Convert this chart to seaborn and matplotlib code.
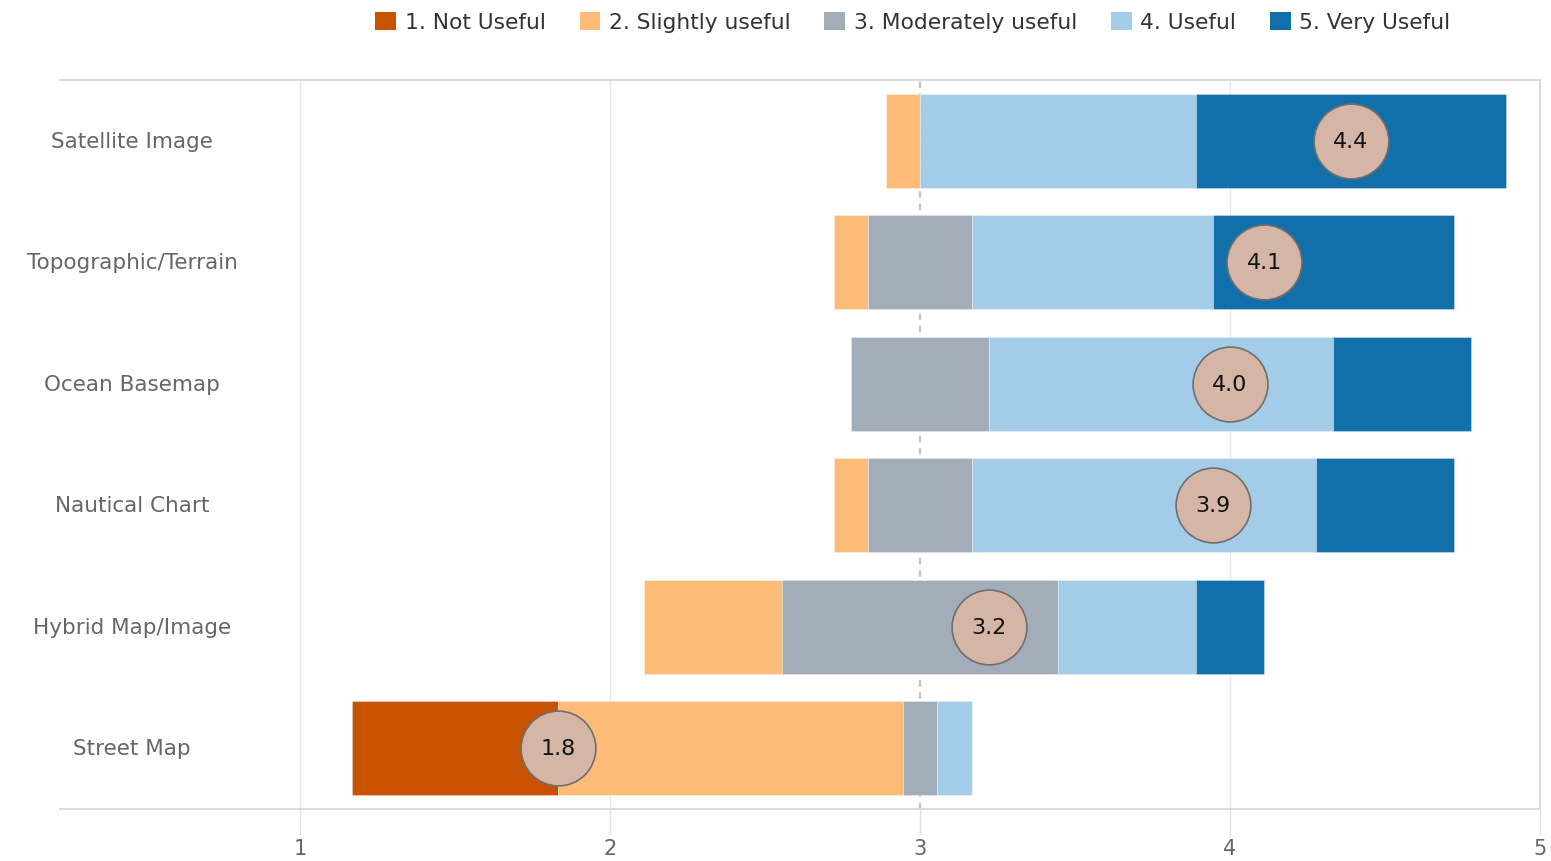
import numpy as np
import pandas as pd
import matplotlib
matplotlib.use("Agg")
import matplotlib.pyplot as plt
from matplotlib.patches import Patch
import seaborn as sns

# Survey: usefulness of basemap types (number of respondents per rating)
categories = ["Satellite Image", "Topographic/Terrain", "Ocean Basemap",
              "Nautical Chart", "Hybrid Map/Image", "Street Map"]
not_useful = [0, 0, 0, 0, 0, 6]
slightly_useful = [1, 1, 0, 1, 4, 10]
moderately_useful = [0, 3, 4, 3, 8, 1]
useful = [8, 7, 10, 10, 4, 1]
very_useful = [9, 7, 4, 4, 2, 0]

rating_labels = ["1. Not Useful", "2. Slightly useful", "3. Moderately useful",
                 "4. Useful", "5. Very Useful"]
rating_colors = ["#c85200", "#ffbc79", "#a3acb9", "#a3cce9", "#1170aa"]

counts = np.array([not_useful, slightly_useful, moderately_useful,
                   useful, very_useful], dtype=float).T
totals = counts.sum(axis=1)
shares = counts / totals[:, None]
scores = np.arange(1, 6)
means = (counts * scores).sum(axis=1) / totals

# Diverging layout: the neutral segment is centred on the score 3,
# 100% of responses spans two units of the score axis.
span = 2.0
starts = 3 - span * (shares[:, 0] + shares[:, 1] + shares[:, 2] / 2)

sns.set_theme(style="white")
plt.rcParams["font.family"] = ["DejaVu Sans"]

W, H = 1551, 862
fig = plt.figure(figsize=(W / 100, H / 100), dpi=100)
ax = fig.add_axes([60 / W, 1 - 810 / H, (1540 - 60) / W, (810 - 81) / H])

ypos = np.arange(len(categories))
left = starts.copy()
for k in range(5):
    widths = span * shares[:, k]
    ax.barh(ypos, widths, left=left, height=0.77, color=rating_colors[k],
            edgecolor=(1, 1, 1, 0.35), linewidth=0.6, zorder=2)
    left = left + widths

# Average score markers
mean_df = pd.DataFrame({"category": categories, "mean": means, "y": ypos})
sns.scatterplot(data=mean_df, x="mean", y="y", s=2900, color="#d5b5a5",
                edgecolor="#6f6f6f", linewidth=1.2, zorder=4, ax=ax,
                legend=False)
for _, row in mean_df.iterrows():
    ax.text(row["mean"], row["y"], f"{row['mean']:.1f}", ha="center",
            va="center", fontsize=16, color="#111111", zorder=5)

# Reference lines
for xv in [1, 2, 4]:
    ax.axvline(xv, color="#e8e8e8", lw=1, zorder=0)
ax.axvline(3, color="#c4c4c4", lw=1.6, ls=(0, (3, 2.5)), zorder=1)

ax.set_xlim(1 - 240 / 310, 5)
ax.set_ylim(len(categories) - 0.5, -0.5)
ax.set_xticks([1, 2, 3, 4, 5])
ax.set_xticklabels(["1", "2", "3", "4", "5"])
ax.tick_params(axis="x", length=19, width=1, color="#e3e3e3", pad=2,
               labelsize=15, labelcolor="#666666", bottom=True)
ax.set_yticks([])
ax.set_xlabel("")
ax.set_ylabel("")

for side in ["top", "bottom", "right"]:
    ax.spines[side].set_visible(True)
    ax.spines[side].set_color("#d4d4d4")
    ax.spines[side].set_linewidth(1.2)
ax.spines["left"].set_visible(False)

# Row headers
label_x = 1 + (132 - 300) / 310
for y, name in zip(ypos, categories):
    ax.text(label_x, y, name, ha="center", va="center", fontsize=15.5,
            color="#666666", zorder=6)

handles = [Patch(facecolor=c, edgecolor="none") for c in rating_colors]
fig.legend(handles, rating_labels, loc="center", ncol=5,
           bbox_to_anchor=(913 / W, 1 - 23 / H), frameon=False,
           fontsize=15.7, handlelength=0.95, handleheight=0.95,
           handletextpad=0.4, columnspacing=1.55, labelcolor="#333333")

fig.savefig("out.png", dpi=100)
